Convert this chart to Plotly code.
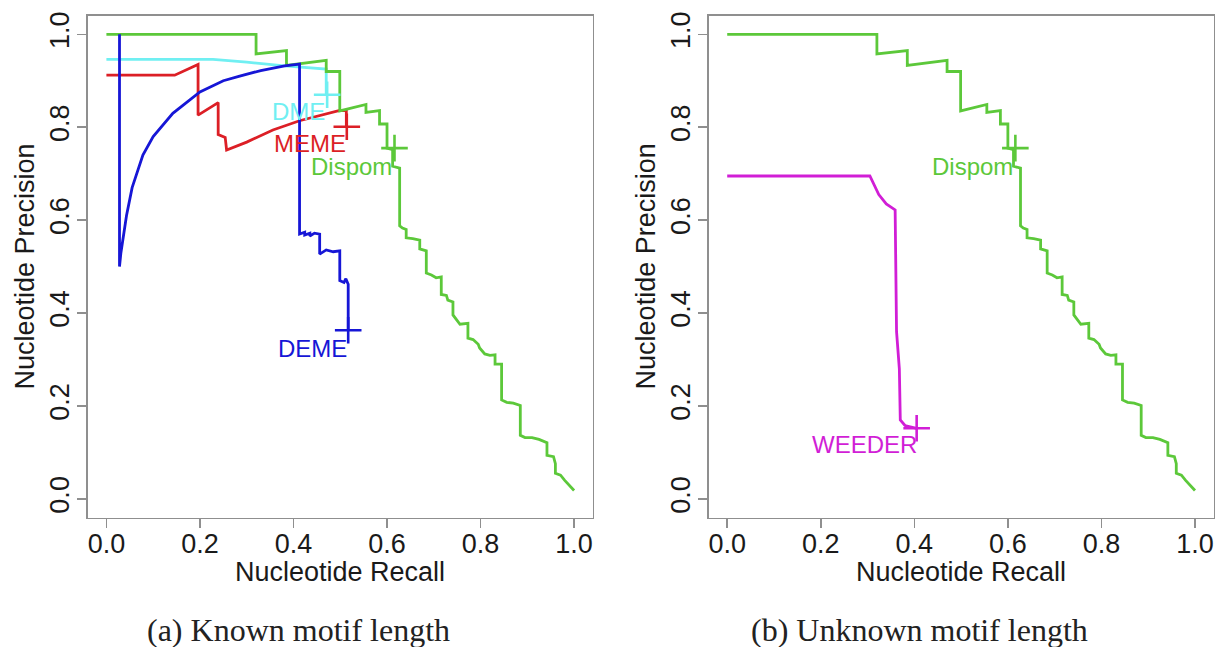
import plotly.graph_objects as go

# ---------------- data ----------------
dispom_recall = [0, 0.32, 0.32, 0.385, 0.385, 0.470, 0.470, 0.499, 0.499, 0.555,
                 0.555, 0.584, 0.584, 0.600, 0.600, 0.612, 0.612, 0.627, 0.627, 0.633,
                 0.641, 0.641, 0.655, 0.670, 0.670, 0.684, 0.684, 0.695, 0.705, 0.716,
                 0.716, 0.727, 0.730, 0.741, 0.741, 0.756, 0.773, 0.773, 0.784, 0.795,
                 0.798, 0.809, 0.820, 0.831, 0.831, 0.845, 0.845, 0.856, 0.870, 0.885,
                 0.885, 0.895, 0.910, 0.925, 0.942, 0.942, 0.956, 0.960, 0.960, 0.971,
                 0.980, 0.990, 1.0]
dispom_precision = [1.0, 1.0, 0.958, 0.965, 0.933, 0.944, 0.920, 0.920, 0.835, 0.849,
                    0.832, 0.836, 0.807, 0.807, 0.755, 0.752, 0.716, 0.712, 0.588, 0.583,
                    0.580, 0.562, 0.560, 0.557, 0.538, 0.534, 0.486, 0.482, 0.476, 0.478,
                    0.440, 0.438, 0.428, 0.424, 0.396, 0.376, 0.378, 0.346, 0.343, 0.333,
                    0.325, 0.312, 0.309, 0.310, 0.290, 0.290, 0.213, 0.208, 0.206, 0.201,
                    0.137, 0.132, 0.132, 0.128, 0.121, 0.094, 0.091, 0.076, 0.055, 0.051,
                    0.040, 0.030, 0.018]

deme_recall = [0.028, 0.028, 0.031, 0.035, 0.043, 0.055, 0.078, 0.100, 0.142, 0.200,
               0.250, 0.285, 0.330, 0.381, 0.413, 0.413, 0.424, 0.424, 0.435, 0.435,
               0.445, 0.456, 0.456, 0.470, 0.485, 0.499, 0.499, 0.508, 0.512, 0.517,
               0.517]
deme_precision = [1.0, 0.50, 0.53, 0.56, 0.61, 0.67, 0.74, 0.78, 0.83, 0.876,
                  0.90, 0.91, 0.922, 0.932, 0.936, 0.570, 0.574, 0.568, 0.572, 0.566,
                  0.572, 0.570, 0.527, 0.536, 0.532, 0.534, 0.470, 0.466, 0.474, 0.462,
                  0.363]

meme_recall = [0.0, 0.146, 0.196, 0.196, 0.239, 0.239, 0.254, 0.257, 0.30, 0.356,
               0.413, 0.46, 0.499, 0.513, 0.513]
meme_precision = [0.912, 0.912, 0.935, 0.826, 0.853, 0.784, 0.778, 0.751, 0.768, 0.794,
                  0.814, 0.826, 0.836, 0.836, 0.801]

dme_recall = [0.0, 0.228, 0.30, 0.381, 0.47, 0.47]
dme_precision = [0.946, 0.946, 0.94, 0.932, 0.925, 0.870]

weeder_recall = [0.0, 0.305, 0.324, 0.340, 0.359, 0.362, 0.368, 0.370, 0.380, 0.405]
weeder_precision = [0.695, 0.695, 0.655, 0.635, 0.622, 0.360, 0.280, 0.170, 0.158, 0.152]

# end-point markers (recall, precision)
end_dme = (0.472, 0.870)
end_meme = (0.514, 0.801)
end_deme = (0.517, 0.363)
end_dispom = (0.616, 0.755)
end_weeder = (0.405, 0.152)

# text labels (x, y)
label_names_a = ["DME", "MEME", "Dispom", "DEME"]
label_pos_a = [(0.411, 0.834), (0.436, 0.766), (0.525, 0.716), (0.441, 0.324)]
label_names_b = ["Dispom", "WEEDER"]
label_pos_b = [(0.525, 0.716), (0.294, 0.118)]

tick_vals = [0.0, 0.2, 0.4, 0.6, 0.8, 1.0]
tick_text = ["0.0", "0.2", "0.4", "0.6", "0.8", "1.0"]

captions = ["(a) Known motif length", "(b) Unknown motif length"]
x_title = "Nucleotide Recall"
y_title = "Nucleotide Precision"

# ---------------- styles ----------------
GREEN = "#5cc83a"
BLUE = "#1616d6"
RED = "#dc1f26"
CYAN = "#70eff2"
MAGENTA = "#d11ed6"
LW = 2.8
FONT = "Liberation Sans"

W, H = 1218, 647

fig = go.Figure()


def add_line(x, y, color, xa, ya):
    fig.add_trace(go.Scatter(x=x, y=y, mode="lines", line=dict(color=color, width=LW),
                             xaxis=xa, yaxis=ya, showlegend=False, hoverinfo="skip"))


def add_plus(pt, color, xa, ya):
    fig.add_trace(go.Scatter(x=[pt[0]], y=[pt[1]], mode="markers",
                             marker=dict(symbol="cross-thin", size=19,
                                         line=dict(color=color, width=2.6)),
                             xaxis=xa, yaxis=ya, showlegend=False, hoverinfo="skip"))


# panel (a)
add_line(dme_recall, dme_precision, CYAN, "x", "y")
add_line(meme_recall, meme_precision, RED, "x", "y")
add_line(dispom_recall, dispom_precision, GREEN, "x", "y")
add_line(deme_recall, deme_precision, BLUE, "x", "y")
add_plus(end_dme, CYAN, "x", "y")
add_plus(end_meme, RED, "x", "y")
add_plus(end_deme, BLUE, "x", "y")
add_plus(end_dispom, GREEN, "x", "y")

# panel (b)
add_line(dispom_recall, dispom_precision, GREEN, "x2", "y2")
add_line(weeder_recall, weeder_precision, MAGENTA, "x2", "y2")
add_plus(end_dispom, GREEN, "x2", "y2")
add_plus(end_weeder, MAGENTA, "x2", "y2")

annotations = []
colors_a = [CYAN, RED, GREEN, BLUE]
for name, pos, c in zip(label_names_a, label_pos_a, colors_a):
    annotations.append(dict(x=pos[0], y=pos[1], xref="x", yref="y", text=name,
                            showarrow=False, font=dict(family=FONT, size=24, color=c),
                            xanchor="center", yanchor="middle"))
colors_b = [GREEN, MAGENTA]
for name, pos, c in zip(label_names_b, label_pos_b, colors_b):
    annotations.append(dict(x=pos[0], y=pos[1], xref="x2", yref="y2", text=name,
                            showarrow=False, font=dict(family=FONT, size=24, color=c),
                            xanchor="center", yanchor="middle"))

# box geometry in pixels
boxA = (87.7, 592.8)
boxB = (708.5, 1213.7)
box_top, box_bot = 11.8, 516.7


def px(x):
    return x / W


def py(y):
    return 1 - y / H


for (l, r), cap, capx in zip([boxA, boxB], captions, [298, 919]):
    cx = (l + r) / 2
    annotations.append(dict(x=px(cx), y=py(572), xref="paper", yref="paper", text=x_title,
                            showarrow=False, font=dict(family=FONT, size=27, color="#1a1a1a"),
                            xanchor="center", yanchor="middle"))
    annotations.append(dict(x=px(l - 62.7), y=py((box_top + box_bot) / 2), xref="paper",
                            yref="paper", text=y_title, textangle=-90, showarrow=False,
                            font=dict(family=FONT, size=27, color="#1a1a1a"),
                            xanchor="center", yanchor="middle"))
    annotations.append(dict(x=px(capx), y=py(630), xref="paper", yref="paper", text=cap,
                            showarrow=False,
                            font=dict(family="Liberation Serif", size=32, color="#222222"),
                            xanchor="center", yanchor="middle"))

axis_common = dict(range=[-0.04, 1.04], showgrid=False, zeroline=False, showline=True,
                   mirror=True, linecolor="#8f8f8f", linewidth=1.5, ticks="outside",
                   ticklen=9, tickwidth=1.5, tickcolor="#8f8f8f", tickvals=tick_vals,
                   ticktext=tick_text, tickfont=dict(family=FONT, size=27, color="#1a1a1a"))

ydom = [py(box_bot), py(box_top)]
fig.update_layout(
    width=W, height=H, margin=dict(l=0, r=0, t=0, b=0),
    paper_bgcolor="white", plot_bgcolor="white",
    xaxis=dict(domain=[px(boxA[0]), px(boxA[1])], anchor="y", ticklabelstandoff=-7,
               **axis_common),
    yaxis=dict(domain=ydom, anchor="x", tickangle=-90, ticklabelstandoff=-3, **axis_common),
    xaxis2=dict(domain=[px(boxB[0]), px(boxB[1])], anchor="y2", ticklabelstandoff=-7,
                **axis_common),
    yaxis2=dict(domain=ydom, anchor="x2", tickangle=-90, ticklabelstandoff=-3,
                **axis_common),
    annotations=annotations,
)

fig.write_html(
    "out.html",
    config={"displayModeBar": False, "staticPlot": True},
    post_script="document.body.style.margin='0';document.body.style.padding='0';"
                "document.documentElement.style.overflow='hidden';",
)
